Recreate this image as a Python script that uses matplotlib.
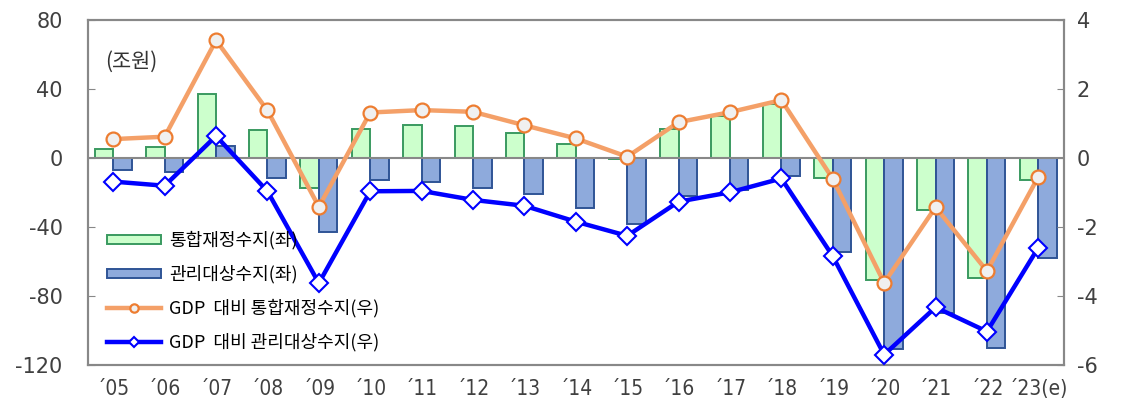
import matplotlib
matplotlib.use("Agg")
import matplotlib.pyplot as plt
import numpy as np

plt.rcParams['font.family'] = ['Noto Sans CJK KR', 'DejaVu Sans']
plt.rcParams['axes.unicode_minus'] = False

years = ["´05", "´06", "´07", "´08", "´09", "´10", "´11", "´12", "´13", "´14",
         "´15", "´16", "´17", "´18", "´19", "´20", "´21", "´22", "´23(e)"]
# 통합재정수지 (조원, left axis)
total_bal = [4.8, 6.2, 37.1, 16.3, -17.6, 16.5, 18.7, 18.6, 14.1, 8.2,
             -0.6, 16.6, 24.0, 31.0, -11.8, -70.8, -30.4, -69.5, -13.0]
# 관리대상수지 (조원, left axis)
mng_bal = [-7.2, -8.5, 7.0, -11.6, -43.2, -12.8, -14.1, -17.6, -20.9, -29.2,
           -38.2, -22.1, -18.6, -10.6, -54.5, -111.0, -90.0, -110.0, -58.0]
# GDP 대비 (%, right axis)
total_gdp = [0.54, 0.61, 3.40, 1.37, -1.42, 1.31, 1.38, 1.33, 0.94, 0.56,
             0.03, 1.03, 1.32, 1.67, -0.61, -3.62, -1.43, -3.28, -0.55]
mng_gdp = [-0.69, -0.81, 0.63, -0.97, -3.63, -0.97, -0.96, -1.22, -1.39, -1.85,
           -2.26, -1.27, -1.00, -0.60, -2.85, -5.70, -4.33, -5.03, -2.60]

x = np.arange(len(years))
w = 0.36

fig = plt.figure(figsize=(11.23, 4.04), dpi=100)
ax = fig.add_axes([0.078, 0.0965, 0.8695, 0.855])
ax2 = ax.twinx()

ax.bar(x - 0.18, total_bal, w, color="#CCFFCC", edgecolor="#3A9A60", linewidth=1.4,
       label="통합재정수지(좌)", zorder=2)
ax.bar(x + 0.18, mng_bal, w, color="#8EAADC", edgecolor="#2F5496", linewidth=1.4,
       label="관리대상수지(좌)", zorder=2)
ax.axhline(0, color="#888888", linewidth=1.5, zorder=3)

l1, = ax2.plot(x, total_gdp, color="#F4A068", linewidth=3.2, marker="o", markersize=10,
               markerfacecolor="#F0F0F0", markeredgecolor="#ED7D31", markeredgewidth=1.6,
               label="GDP  대비 통합재정수지(우)", zorder=4)
l2, = ax2.plot(x, mng_gdp, color="#0000FF", linewidth=3.2, marker="D", markersize=9,
               markerfacecolor="white", markeredgecolor="#0000FF", markeredgewidth=1.5,
               label="GDP  대비 관리대상수지(우)", zorder=5)

ax.set_xlim(-0.5, len(years) - 0.5)
ax.set_ylim(-120, 80)
ax.set_yticks([80, 40, 0, -40, -80, -120])
ax2.set_ylim(-6, 4)
ax2.set_yticks([4, 2, 0, -2, -4, -6])

ax.set_xticks(x)
ax.set_xticklabels(years, fontsize=15, color="#404040")
for lab in ax.get_xticklabels():
    lab.set_family(['DejaVu Sans'])
    lab.set_stretch('condensed')
ax.tick_params(axis="x", length=0, pad=10)
ax.tick_params(axis="y", direction="in", length=5, color="#888888", labelsize=15,
               labelcolor="#404040", pad=18)
ax2.tick_params(axis="y", direction="in", length=5, color="#888888", labelsize=15,
                labelcolor="#404040", pad=9)
for a in (ax, ax2):
    for s in a.spines.values():
        s.set_color("#888888")
        s.set_linewidth(1.5)
for lab in ax.get_yticklabels() + ax2.get_yticklabels():
    lab.set_family(['DejaVu Sans'])

ax.set_zorder(ax2.get_zorder() - 1)
ax2.patch.set_visible(False)

ax.text(0.018, 0.877, "(조원)", transform=ax.transAxes, fontsize=15, color="#333333",
        va="center", ha="left")

h1, lb1 = ax.get_legend_handles_labels()
ax2.legend(h1 + [l1, l2], lb1 + [l1.get_label(), l2.get_label()],
           loc="lower left", bbox_to_anchor=(0.012, 0.018), frameon=False,
           fontsize=13, handlelength=3.0, handleheight=0.42, handletextpad=0.45,
           labelspacing=0.85, borderaxespad=0, markerscale=0.6)

fig.savefig("out.png", dpi=100)
